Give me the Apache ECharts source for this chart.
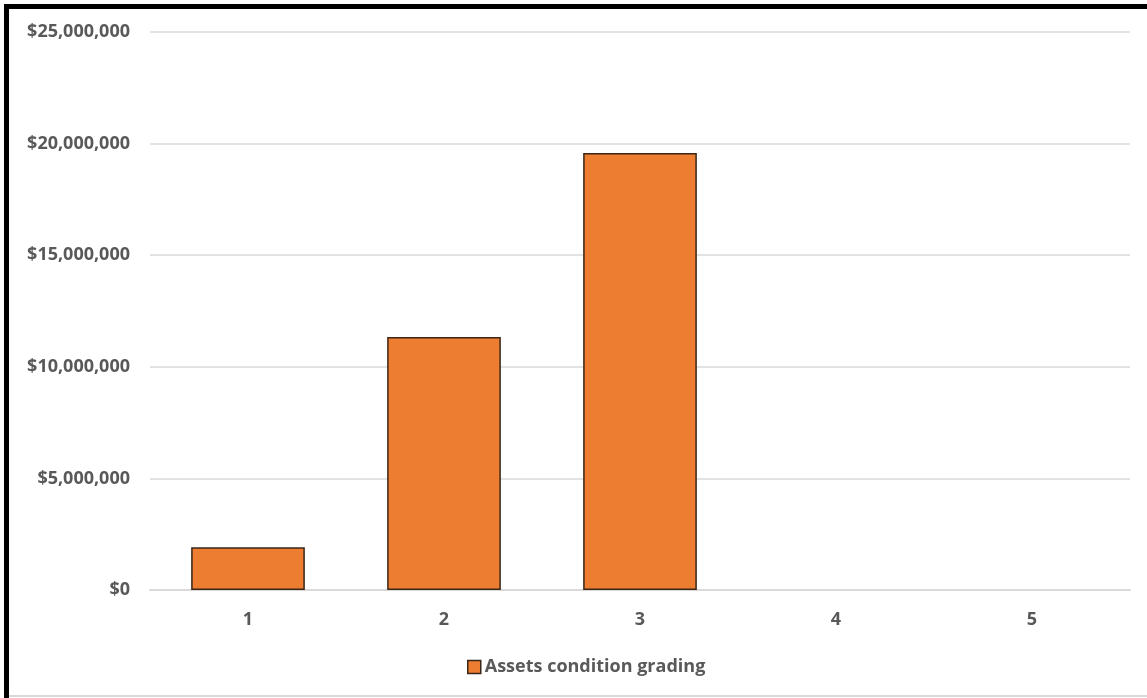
<!DOCTYPE html>
<html>
<head>
<meta charset="utf-8">
<script src="https://cdn.jsdelivr.net/npm/echarts@6/dist/echarts.min.js"></script>
<style>
html,body{margin:0;padding:0;background:#fff;}
#wrap{position:relative;width:1147px;height:698px;overflow:hidden;}
#chart{position:absolute;left:0;top:0;width:1147px;height:698px;}
.bl{position:absolute;left:4px;top:4px;width:5px;height:694px;background:#000;}
.bt{position:absolute;left:4px;top:4px;width:1143px;height:5px;background:#000;}
.bb{position:absolute;left:9px;top:695px;width:1138px;height:2px;background:#d9d9d9;}
</style>
</head>
<body>
<div id="wrap">
<div id="chart"></div>
<div class="bl"></div><div class="bt"></div><div class="bb"></div>
</div>
<script>
const categories = ['1', '2', '3', '4', '5'];
const seriesName = 'Assets condition grading';
const values = [1910000, 11340000, 19580000, 0, 0];
const yTicks = [0, 5000000, 10000000, 15000000, 20000000, 25000000];

const chart = echarts.init(document.getElementById('chart'), null, {renderer: 'canvas'});
const font = '"Open Sans", "DejaVu Sans", sans-serif';
chart.setOption({
  animation: false,
  backgroundColor: '#ffffff',
  grid: {left: 150, right: 17, top: 32, bottom: 108, containLabel: false},
  legend: {
    left: 462, top: 653,
    itemWidth: 13, itemHeight: 13, itemGap: 10,
    icon: 'rect',
    textStyle: {color: '#595959', fontSize: 18, fontWeight: 'bold', fontFamily: font, padding: [0, 0, 0, -1]},
    itemStyle: {borderColor: '#3a2618', borderWidth: 1.5},
    data: [seriesName]
  },
  xAxis: {
    type: 'category',
    data: categories,
    axisLine: {show: true, lineStyle: {color: '#d9d9d9', width: 2}},
    axisTick: {show: false},
    axisLabel: {color: '#595959', fontSize: 18, fontWeight: 'bold', fontFamily: font, margin: 21}
  },
  yAxis: {
    type: 'value',
    min: yTicks[0], max: yTicks[yTicks.length - 1], interval: yTicks[1] - yTicks[0],
    axisLine: {show: false},
    axisTick: {show: false},
    splitLine: {lineStyle: {color: '#d9d9d9', width: 1.5}},
    axisLabel: {
      color: '#595959', fontSize: 18, fontWeight: 'bold', fontFamily: font, margin: 20,
      formatter: v => '$' + v.toLocaleString('en-US')
    }
  },
  series: [{
    name: seriesName,
    type: 'bar',
    data: values.map(v => v === 0 ? {value: v, itemStyle: {borderWidth: 0}} : v),
    barWidth: '58%',
    itemStyle: {color: '#ED7D31', borderColor: '#3a2618', borderWidth: 1.5}
  }]
});
</script>
</body>
</html>
